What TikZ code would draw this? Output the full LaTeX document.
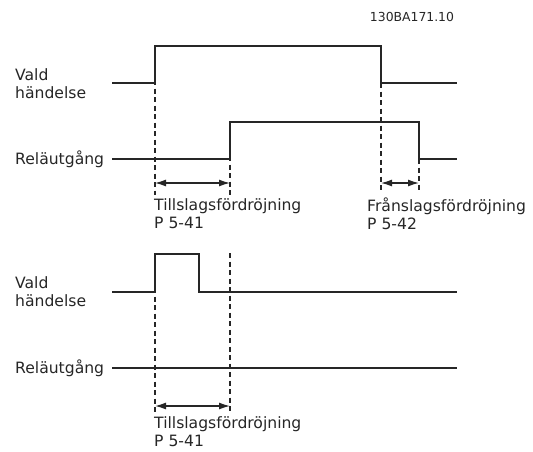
\documentclass[tikz,border=0pt]{standalone}
\usepackage{fontspec}
\setmainfont{DejaVu Sans}
\usetikzlibrary{arrows.meta,positioning}

\begin{document}
\begin{tikzpicture}[
    x=1pt, y=-1pt,
    sig/.style={line width=1.3pt, black!85},
    guide/.style={line width=1.1pt, dash pattern=on 5pt off 3.5pt, black!85},
    delay/.style={{Latex[length=11pt,width=7pt]}-{Latex[length=11pt,width=7pt]}, line width=1.3pt, black!85},
    lbl/.style={font=\fontsize{15.6}{18}\selectfont, align=left, inner sep=0pt, text=black!85},
    note/.style={lbl, anchor=north west}
]
    \useasboundingbox (0,0) rectangle (533,451);

    % Drawing number
    \node[font=\fontsize{12.4}{14}\selectfont, inner sep=0pt, text=black!85] (code) at (412,17) {130BA171.10};

    % Upper case: event longer than delay
    \node[lbl, anchor=west] (ev1) at (15,84) {Vald\\händelse};
    \node[lbl, anchor=west] (rl1) at (15,159) {Reläutgång};

    \coordinate (ev1start) at (112,83);
    \coordinate (ev1on)    at (155,46);
    \coordinate (ev1off)   at (381,83);
    \coordinate (ev1end)   at (457,83);
    \coordinate (rl1start) at (112,159);
    \coordinate (rl1on)    at (230,122);
    \coordinate (rl1off)   at (419,159);
    \coordinate (rl1end)   at (457,159);

    \draw[sig] (ev1start) -| (ev1on) -| (ev1off) -- (ev1end);
    \draw[sig] (rl1start) -| (rl1on) -| (rl1off) -- (rl1end);

    % Guide lines
    \coordinate (g1) at (155,195);
    \coordinate (g2) at (230,195);
    \coordinate (g3) at (381,192);
    \coordinate (g4) at (419,192);
    \draw[guide] (ev1on) -- (g1);
    \draw[guide] (rl1on) -- (g2);
    \draw[guide] (ev1off) -- (g3);
    \draw[guide] (rl1off) -- (g4);

    % Delays
    \coordinate (on1a) at (155,183);
    \coordinate (on1b) at (230,183);
    \coordinate (off1a) at (381,183);
    \coordinate (off1b) at (419,183);
    \draw[delay] (on1a) -- (on1b);
    \draw[delay] (off1a) -- (off1b);
    \node[note] (ton1) at (154,198) {Tillslagsfördröjning\\P 5-41};
    \node[note] (toff1) at (367,198) {Frånslagsfördröjning\\P 5-42};

    % Lower case: event shorter than delay
    \node[lbl, anchor=west] (ev2) at (15,292) {Vald\\händelse};
    \node[lbl, anchor=west] (rl2) at (15,368) {Reläutgång};

    \coordinate (ev2start) at (112,292);
    \coordinate (ev2on)    at (155,254);
    \coordinate (ev2off)   at (199,292);
    \coordinate (ev2end)   at (457,292);
    \coordinate (rl2start) at (112,368);
    \coordinate (rl2end)   at (457,368);

    \draw[sig] (ev2start) -| (ev2on) -| (ev2off) -- (ev2end);
    \draw[sig] (rl2start) -- (rl2end);

    \coordinate (g5top) at (230,253);
    \coordinate (g5) at (155,413);
    \coordinate (g6) at (230,413);
    \draw[guide] (ev2on) -- (g5);
    \draw[guide] (g5top) -- (g6);

    \coordinate (on2a) at (155,406);
    \coordinate (on2b) at (230,406);
    \draw[delay] (on2a) -- (on2b);
    \node[note] (ton2) at (154,416) {Tillslagsfördröjning\\P 5-41};
\end{tikzpicture}
\end{document}
